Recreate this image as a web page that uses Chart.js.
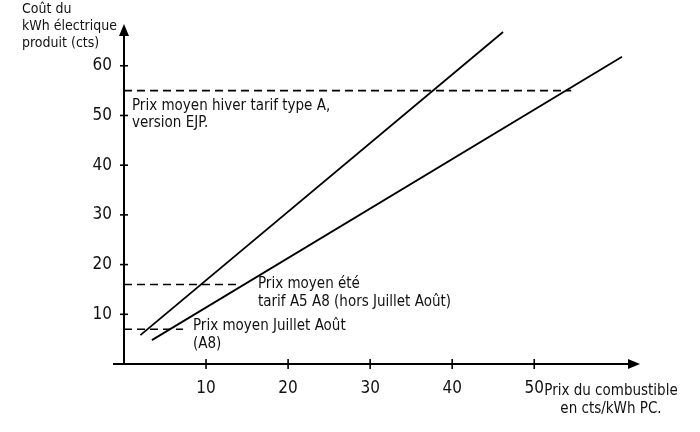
<!DOCTYPE html>
<html><head><meta charset="utf-8">
<script src="https://cdn.jsdelivr.net/npm/chart.js@4.4.1/dist/chart.umd.min.js"></script>
<style>html,body{margin:0;padding:0;background:#fff}#wrap{width:700px;height:432px;position:relative}</style>
</head><body><div id="wrap"><canvas id="c" width="700" height="432"></canvas></div>
<script>
// ---- data ----
const xTickValues = [10, 20, 30, 40, 50];
const yTickValues = [10, 20, 30, 40, 50, 60];
const line1X = [2, 46.2];
const line1Y = [5.8, 66.8];
const line2X = [3.4, 60.7];
const line2Y = [4.8, 61.8];
const priceLevels = [55, 16, 7];          // prix moyen hiver, été, juillet-août
const priceLevelEndX = [54.5, 14, 7.2];
const yTitleLines = ["Coût du", "kWh électrique", "produit (cts)"];
const xTitleLines = ["Prix du combustible", "en cts/kWh PC."];
const noteHiver = ["Prix moyen hiver tarif type A,", "version EJP."];
const noteEte = ["Prix moyen été", "tarif A5 A8 (hors Juillet Août)"];
const noteJuillet = ["Prix moyen Juillet Août", "(A8)"];

const FONT = "'Liberation Sans Narrow','DejaVu Sans Condensed',sans-serif";
const pts = (xs, ys) => xs.map((x, i) => ({x, y: ys[i]}));

const datasets = [
  {data: pts(line1X, line1Y), borderColor: '#000', borderWidth: 1.8, showLine: true, pointRadius: 0, fill: false},
  {data: pts(line2X, line2Y), borderColor: '#000', borderWidth: 1.8, showLine: true, pointRadius: 0, fill: false}
];
priceLevels.forEach((lv, i) => datasets.push({
  data: pts([0, priceLevelEndX[i]], [lv, lv]), borderColor: '#000', borderWidth: 1.6,
  borderDash: [8, 5], showLine: true, pointRadius: 0, fill: false
}));

const decor = {
  id: 'decor',
  afterDraw(chart) {
    const ctx = chart.ctx, xs = chart.scales.x, ys = chart.scales.y;
    const x0 = xs.getPixelForValue(0), y0 = ys.getPixelForValue(0);
    const xEnd = 632, yTop = 33;
    ctx.save();
    ctx.strokeStyle = '#000'; ctx.fillStyle = '#000'; ctx.lineWidth = 2;
    // axes
    ctx.beginPath(); ctx.moveTo(x0 - 11, y0); ctx.lineTo(xEnd, y0); ctx.stroke();
    ctx.beginPath(); ctx.moveTo(x0, y0 + 1); ctx.lineTo(x0, yTop); ctx.stroke();
    // arrows
    ctx.beginPath(); ctx.moveTo(xEnd + 8, y0); ctx.lineTo(xEnd - 4, y0 - 5); ctx.lineTo(xEnd - 4, y0 + 5); ctx.closePath(); ctx.fill();
    ctx.beginPath(); ctx.moveTo(x0, yTop - 9); ctx.lineTo(x0 - 5, yTop + 3); ctx.lineTo(x0 + 5, yTop + 3); ctx.closePath(); ctx.fill();
    // tick crosses
    ctx.lineWidth = 1.6;
    xTickValues.forEach(v => { const p = xs.getPixelForValue(v); ctx.beginPath(); ctx.moveTo(p, y0 - 5); ctx.lineTo(p, y0 + 5); ctx.stroke(); });
    yTickValues.forEach(v => { const p = ys.getPixelForValue(v); ctx.beginPath(); ctx.moveTo(x0 - 4, p); ctx.lineTo(x0 + 4, p); ctx.stroke(); });
    // texts
    ctx.fillStyle = '#111';
    ctx.textBaseline = 'middle';
    ctx.textAlign = 'left';
    ctx.font = '14px ' + FONT;
    yTitleLines.forEach((t, i) => ctx.fillText(t, 22, 9 + i * 17));
    ctx.font = '15px ' + FONT;
    noteHiver.forEach((t, i) => ctx.fillText(t, 132, 106 + i * 17));
    noteEte.forEach((t, i) => ctx.fillText(t, 258, 284 + i * 18));
    noteJuillet.forEach((t, i) => ctx.fillText(t, 193, 326 + i * 18));
    ctx.textAlign = 'center';
    xTitleLines.forEach((t, i) => ctx.fillText(t, 611, 391 + i * 18));
    ctx.restore();
  }
};

new Chart(document.getElementById('c'), {
  type: 'scatter',
  data: {datasets},
  options: {
    responsive: false, animation: false, devicePixelRatio: 1,
    layout: {padding: {top: 26, right: 55, left: 0, bottom: 0}},
    plugins: {legend: {display: false}, tooltip: {enabled: false}},
    scales: {
      x: {
        type: 'linear', min: 0, max: 63.5,
        grid: {display: false}, border: {display: false},
        afterBuildTicks: s => { s.ticks = xTickValues.map(v => ({value: v})); },
        afterFit: s => { s.height = 68; },
        ticks: {color: '#111', font: {family: FONT, size: 17}, padding: 6, maxRotation: 0, autoSkip: false}
      },
      y: {
        type: 'linear', min: 0, max: 68,
        grid: {display: false}, border: {display: false},
        afterBuildTicks: s => { s.ticks = yTickValues.map(v => ({value: v})); },
        afterFit: s => { s.width = 124; },
        ticks: {color: '#111', font: {family: FONT, size: 17}, padding: 4, autoSkip: false}
      }
    }
  },
  plugins: [decor]
});
</script></body></html>
